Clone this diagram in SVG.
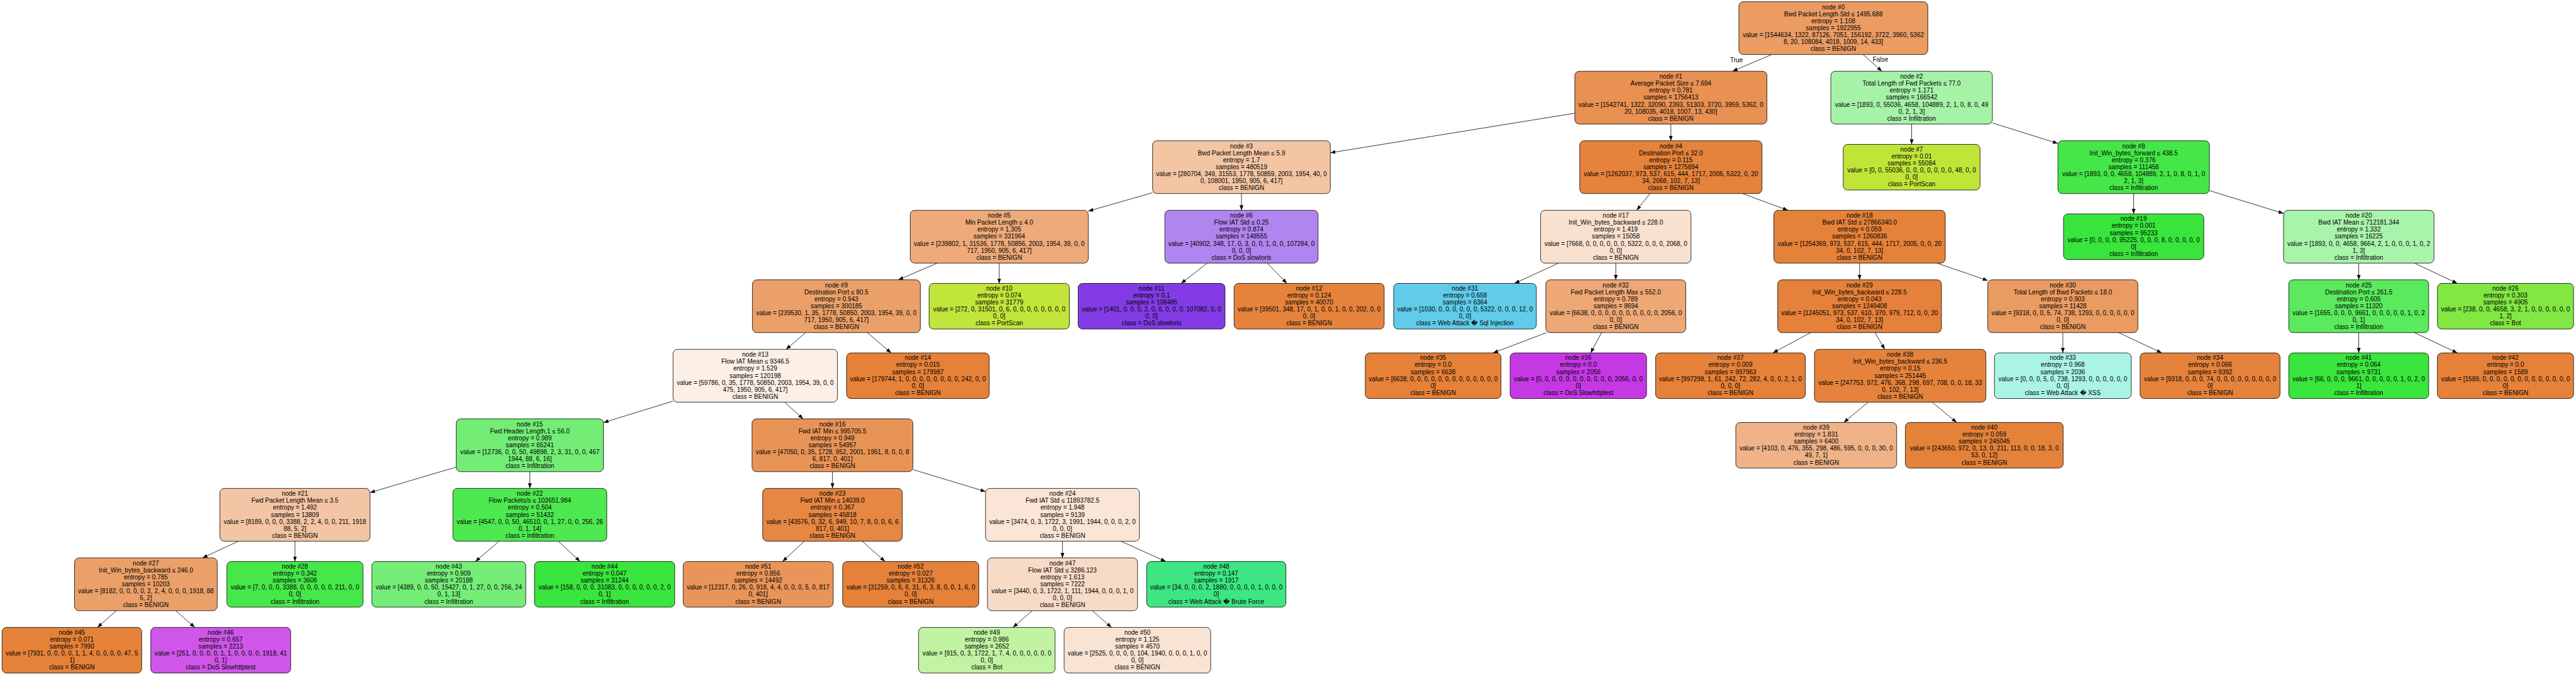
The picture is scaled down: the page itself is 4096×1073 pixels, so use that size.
<svg xmlns="http://www.w3.org/2000/svg" width="4096" height="1073" viewBox="0 0 4096 1073">
<style>
.node rect{stroke:#000;stroke-width:0.8}
.node text,.elabel{font-family:"Liberation Sans",Arial,Helvetica,"DejaVu Sans",sans-serif;font-size:10px;text-anchor:middle;fill:#000}
#edges line{stroke:#000;stroke-width:0.8;marker-end:url(#arrow)}
</style>
<defs>
<marker id="arrow" markerUnits="userSpaceOnUse" viewBox="0 0 9 7" markerWidth="9" markerHeight="7" refX="8" refY="3" orient="auto"><path d="M0,0 L8,3 L0,6 Z" fill="#000"/></marker>
</defs>
<rect width="4096" height="1073" fill="#fff"/>
<g id="edges">
<line x1="2817.05" y1="86.67" x2="2754.9" y2="113.25"/>
<line x1="2962.4" y1="86.67" x2="2992.35" y2="113.25"/>
<line x1="2504.1" y1="179.94" x2="2115.3" y2="242.87"/>
<line x1="2656.8" y1="197.19" x2="2656.8" y2="223.77"/>
<line x1="3039.6" y1="197.19" x2="3039.6" y2="229.47"/>
<line x1="3168.05" y1="195.43" x2="3272.2" y2="228.03"/>
<line x1="1832.7" y1="306.29" x2="1730.4" y2="335.64"/>
<line x1="1974" y1="307.71" x2="1974" y2="334.29"/>
<line x1="2623.54" y1="307.71" x2="2602.46" y2="334.29"/>
<line x1="2770.73" y1="307.71" x2="2842.92" y2="334.29"/>
<line x1="3392.65" y1="307.71" x2="3392.65" y2="339.99"/>
<line x1="3513.1" y1="302.93" x2="3631.0" y2="339.33"/>
<line x1="1490.52" y1="418.23" x2="1428.23" y2="444.81"/>
<line x1="1588.85" y1="418.23" x2="1588.85" y2="450.51"/>
<line x1="1919.74" y1="418.23" x2="1878.0" y2="450.51"/>
<line x1="2014.86" y1="418.23" x2="2046.29" y2="450.51"/>
<line x1="1280.92" y1="528.75" x2="1249.88" y2="555.33"/>
<line x1="1379.13" y1="528.75" x2="1417.0" y2="561.03"/>
<line x1="1070.2" y1="637.6" x2="959.6" y2="671.71"/>
<line x1="1247.53" y1="639.27" x2="1277.07" y2="665.85"/>
<line x1="725.4" y1="742.47" x2="588.3" y2="783.04"/>
<line x1="842.5" y1="749.79" x2="842.5" y2="776.37"/>
<line x1="1323.7" y1="749.79" x2="1323.7" y2="776.37"/>
<line x1="1451.6" y1="746.47" x2="1567.05" y2="781.36"/>
<line x1="2478.17" y1="418.23" x2="2408.13" y2="450.51"/>
<line x1="2569.2" y1="418.23" x2="2569.2" y2="444.81"/>
<line x1="2956.85" y1="418.23" x2="2956.85" y2="444.81"/>
<line x1="3079.55" y1="418.23" x2="3160.7" y2="445.98"/>
<line x1="3750.6" y1="418.23" x2="3750.6" y2="444.81"/>
<line x1="3839.18" y1="418.23" x2="3907.34" y2="450.51"/>
<line x1="2458.93" y1="528.75" x2="2374.1" y2="561.03"/>
<line x1="2546.59" y1="528.75" x2="2529.19" y2="561.03"/>
<line x1="2878.92" y1="528.75" x2="2818.96" y2="561.03"/>
<line x1="2981.36" y1="528.75" x2="2996.89" y2="555.33"/>
<line x1="3280" y1="528.75" x2="3280" y2="561.03"/>
<line x1="3368.91" y1="528.75" x2="3437.31" y2="561.03"/>
<line x1="3750.55" y1="528.75" x2="3750.55" y2="561.03"/>
<line x1="3839.15" y1="528.75" x2="3907.32" y2="561.03"/>
<line x1="2970.71" y1="639.27" x2="2931.71" y2="671.55"/>
<line x1="3072.18" y1="639.27" x2="3111.26" y2="671.55"/>
<line x1="378.99" y1="860.31" x2="321.96" y2="886.89"/>
<line x1="469" y1="860.31" x2="469" y2="892.59"/>
<line x1="793.58" y1="860.31" x2="755.94" y2="892.59"/>
<line x1="887.65" y1="860.31" x2="922.38" y2="892.59"/>
<line x1="1278.86" y1="860.31" x2="1244.36" y2="892.59"/>
<line x1="1370.93" y1="860.31" x2="1407.27" y2="892.59"/>
<line x1="1689.4" y1="860.31" x2="1689.4" y2="886.89"/>
<line x1="1782.27" y1="860.31" x2="1853.73" y2="892.59"/>
<line x1="184.82" y1="970.83" x2="155.03" y2="997.36"/>
<line x1="279.62" y1="970.83" x2="309.75" y2="997.36"/>
<line x1="1641.21" y1="970.83" x2="1610.75" y2="997.36"/>
<line x1="1737.13" y1="970.83" x2="1767.3" y2="997.36"/>
<text class="elabel" x="2761" y="98.8">True</text>
<text class="elabel" x="2990" y="97.9">False</text>
</g>

<g id="node0" class="node"><rect x="2765.0" y="2.73" width="300.3" height="83.93" rx="7" fill="#eb9c63"/><text y="14.53"><tspan x="2915.15">node #0</tspan><tspan x="2915.15" dy="11.13">Bwd Packet Length Std ≤ 1495.688</tspan><tspan x="2915.15" dy="11.13">entropy = 1.108</tspan><tspan x="2915.15" dy="11.13">samples = 1922955</tspan><tspan x="2915.15" dy="11.13">value = [1544634, 1322, 87126, 7051, 156192, 3722, 3960, 5362</tspan><tspan x="2915.15" dy="11.13">8, 20, 108084, 4018, 1009, 14, 433]</tspan><tspan x="2915.15" dy="11.13">class = BENIGN</tspan></text></g>

<g id="node1" class="node"><rect x="2504.1" y="113.25" width="305.4" height="83.93" rx="7" fill="#e89153"/><text y="125.05"><tspan x="2656.8">node #1</tspan><tspan x="2656.8" dy="11.13">Average Packet Size ≤ 7.694</tspan><tspan x="2656.8" dy="11.13">entropy = 0.781</tspan><tspan x="2656.8" dy="11.13">samples = 1756413</tspan><tspan x="2656.8" dy="11.13">value = [1542741, 1322, 32090, 2393, 51303, 3720, 3959, 5362, 0</tspan><tspan x="2656.8" dy="11.13">20, 108035, 4018, 1007, 13, 430]</tspan><tspan x="2656.8" dy="11.13">class = BENIGN</tspan></text></g>

<g id="node2" class="node"><rect x="2911.15" y="113.25" width="256.9" height="83.93" rx="7" fill="#a6f3a8"/><text y="125.05"><tspan x="3039.6">node #2</tspan><tspan x="3039.6" dy="11.13">Total Length of Fwd Packets ≤ 77.0</tspan><tspan x="3039.6" dy="11.13">entropy = 1.171</tspan><tspan x="3039.6" dy="11.13">samples = 166542</tspan><tspan x="3039.6" dy="11.13">value = [1893, 0, 55036, 4658, 104889, 2, 1, 0, 8, 0, 49</tspan><tspan x="3039.6" dy="11.13">0, 2, 1, 3]</tspan><tspan x="3039.6" dy="11.13">class = Infiltration</tspan></text></g>

<g id="node3" class="node"><rect x="1832.7" y="223.77" width="282.6" height="83.93" rx="7" fill="#f3c5a3"/><text y="235.57"><tspan x="1974">node #3</tspan><tspan x="1974" dy="11.13">Bwd Packet Length Mean ≤ 5.9</tspan><tspan x="1974" dy="11.13">entropy = 1.7</tspan><tspan x="1974" dy="11.13">samples = 480519</tspan><tspan x="1974" dy="11.13">value = [280704, 349, 31553, 1778, 50859, 2003, 1954, 40, 0</tspan><tspan x="1974" dy="11.13">0, 108001, 1950, 905, 6, 417]</tspan><tspan x="1974" dy="11.13">class = BENIGN</tspan></text></g>

<g id="node4" class="node"><rect x="2511.9" y="223.77" width="289.8" height="83.93" rx="7" fill="#e5823b"/><text y="235.57"><tspan x="2656.8">node #4</tspan><tspan x="2656.8" dy="11.13">Destination Port ≤ 32.0</tspan><tspan x="2656.8" dy="11.13">entropy = 0.115</tspan><tspan x="2656.8" dy="11.13">samples = 1275894</tspan><tspan x="2656.8" dy="11.13">value = [1262037, 973, 537, 615, 444, 1717, 2005, 5322, 0, 20</tspan><tspan x="2656.8" dy="11.13">34, 2068, 102, 7, 13]</tspan><tspan x="2656.8" dy="11.13">class = BENIGN</tspan></text></g>

<g id="node7" class="node"><rect x="2930.85" y="229.47" width="217.5" height="72.53" rx="7" fill="#c0e539"/><text y="240.77"><tspan x="3039.6">node #7</tspan><tspan x="3039.6" dy="11.13">entropy = 0.01</tspan><tspan x="3039.6" dy="11.13">samples = 55084</tspan><tspan x="3039.6" dy="11.13">value = [0, 0, 55036, 0, 0, 0, 0, 0, 0, 0, 48, 0, 0</tspan><tspan x="3039.6" dy="11.13">0, 0]</tspan><tspan x="3039.6" dy="11.13">class = PortScan</tspan></text></g>

<g id="node8" class="node"><rect x="3272.2" y="223.77" width="240.9" height="83.93" rx="7" fill="#45e748"/><text y="235.57"><tspan x="3392.65">node #8</tspan><tspan x="3392.65" dy="11.13">Init_Win_bytes_forward ≤ 438.5</tspan><tspan x="3392.65" dy="11.13">entropy = 0.376</tspan><tspan x="3392.65" dy="11.13">samples = 111458</tspan><tspan x="3392.65" dy="11.13">value = [1893, 0, 0, 4658, 104889, 2, 1, 0, 8, 0, 1, 0</tspan><tspan x="3392.65" dy="11.13">2, 1, 3]</tspan><tspan x="3392.65" dy="11.13">class = Infiltration</tspan></text></g>

<g id="node5" class="node"><rect x="1447.3" y="334.29" width="283.1" height="83.93" rx="7" fill="#eeaa7a"/><text y="346.09"><tspan x="1588.85">node #5</tspan><tspan x="1588.85" dy="11.13">Min Packet Length ≤ 4.0</tspan><tspan x="1588.85" dy="11.13">entropy = 1.305</tspan><tspan x="1588.85" dy="11.13">samples = 331964</tspan><tspan x="1588.85" dy="11.13">value = [239802, 1, 31536, 1778, 50856, 2003, 1954, 39, 0, 0</tspan><tspan x="1588.85" dy="11.13">717, 1950, 905, 6, 417]</tspan><tspan x="1588.85" dy="11.13">class = BENIGN</tspan></text></g>

<g id="node6" class="node"><rect x="1852.2" y="334.29" width="243.6" height="83.93" rx="7" fill="#b185ef"/><text y="346.09"><tspan x="1974">node #6</tspan><tspan x="1974" dy="11.13">Flow IAT Std ≤ 0.25</tspan><tspan x="1974" dy="11.13">entropy = 0.874</tspan><tspan x="1974" dy="11.13">samples = 148555</tspan><tspan x="1974" dy="11.13">value = [40902, 348, 17, 0, 3, 0, 0, 1, 0, 0, 107284, 0</tspan><tspan x="1974" dy="11.13">0, 0, 0]</tspan><tspan x="1974" dy="11.13">class = DoS slowloris</tspan></text></g>

<g id="node17" class="node"><rect x="2449.6" y="334.29" width="239.2" height="83.93" rx="7" fill="#f9e1cf"/><text y="346.09"><tspan x="2569.2">node #17</tspan><tspan x="2569.2" dy="11.13">Init_Win_bytes_backward ≤ 228.0</tspan><tspan x="2569.2" dy="11.13">entropy = 1.419</tspan><tspan x="2569.2" dy="11.13">samples = 15058</tspan><tspan x="2569.2" dy="11.13">value = [7668, 0, 0, 0, 0, 0, 0, 5322, 0, 0, 0, 2068, 0</tspan><tspan x="2569.2" dy="11.13">0, 0]</tspan><tspan x="2569.2" dy="11.13">class = BENIGN</tspan></text></g>

<g id="node18" class="node"><rect x="2820.6" y="334.29" width="272.5" height="83.93" rx="7" fill="#e5823a"/><text y="346.09"><tspan x="2956.85">node #18</tspan><tspan x="2956.85" dy="11.13">Bwd IAT Std ≤ 27866340.0</tspan><tspan x="2956.85" dy="11.13">entropy = 0.059</tspan><tspan x="2956.85" dy="11.13">samples = 1260836</tspan><tspan x="2956.85" dy="11.13">value = [1254369, 973, 537, 615, 444, 1717, 2005, 0, 0, 20</tspan><tspan x="2956.85" dy="11.13">34, 0, 102, 7, 13]</tspan><tspan x="2956.85" dy="11.13">class = BENIGN</tspan></text></g>

<g id="node19" class="node"><rect x="3281.1" y="339.99" width="223.1" height="72.53" rx="7" fill="#39e53c"/><text y="351.29"><tspan x="3392.65">node #19</tspan><tspan x="3392.65" dy="11.13">entropy = 0.001</tspan><tspan x="3392.65" dy="11.13">samples = 95233</tspan><tspan x="3392.65" dy="11.13">value = [0, 0, 0, 0, 95225, 0, 0, 0, 8, 0, 0, 0, 0, 0</tspan><tspan x="3392.65" dy="11.13">0]</tspan><tspan x="3392.65" dy="11.13">class = Infiltration</tspan></text></g>

<g id="node20" class="node"><rect x="3631.0" y="334.29" width="239.2" height="83.93" rx="7" fill="#a9f4ab"/><text y="346.09"><tspan x="3750.6">node #20</tspan><tspan x="3750.6" dy="11.13">Bwd IAT Mean ≤ 712181.344</tspan><tspan x="3750.6" dy="11.13">entropy = 1.332</tspan><tspan x="3750.6" dy="11.13">samples = 16225</tspan><tspan x="3750.6" dy="11.13">value = [1893, 0, 0, 4658, 9664, 2, 1, 0, 0, 0, 1, 0, 2</tspan><tspan x="3750.6" dy="11.13">1, 3]</tspan><tspan x="3750.6" dy="11.13">class = Infiltration</tspan></text></g>

<g id="node9" class="node"><rect x="1196.4" y="444.81" width="267.0" height="83.93" rx="7" fill="#eba069"/><text y="456.61"><tspan x="1329.9">node #9</tspan><tspan x="1329.9" dy="11.13">Destination Port ≤ 80.5</tspan><tspan x="1329.9" dy="11.13">entropy = 0.943</tspan><tspan x="1329.9" dy="11.13">samples = 300185</tspan><tspan x="1329.9" dy="11.13">value = [239530, 1, 35, 1778, 50850, 2003, 1954, 39, 0, 0</tspan><tspan x="1329.9" dy="11.13">717, 1950, 905, 6, 417]</tspan><tspan x="1329.9" dy="11.13">class = BENIGN</tspan></text></g>

<g id="node10" class="node"><rect x="1477.3" y="450.51" width="223.1" height="72.53" rx="7" fill="#c1e53b"/><text y="461.81"><tspan x="1588.85">node #10</tspan><tspan x="1588.85" dy="11.13">entropy = 0.074</tspan><tspan x="1588.85" dy="11.13">samples = 31779</tspan><tspan x="1588.85" dy="11.13">value = [272, 0, 31501, 0, 6, 0, 0, 0, 0, 0, 0, 0, 0</tspan><tspan x="1588.85" dy="11.13">0, 0]</tspan><tspan x="1588.85" dy="11.13">class = PortScan</tspan></text></g>

<g id="node11" class="node"><rect x="1714.3" y="450.51" width="233.6" height="72.53" rx="7" fill="#833ce5"/><text y="461.81"><tspan x="1831.1">node #11</tspan><tspan x="1831.1" dy="11.13">entropy = 0.1</tspan><tspan x="1831.1" dy="11.13">samples = 108485</tspan><tspan x="1831.1" dy="11.13">value = [1401, 0, 0, 0, 2, 0, 0, 0, 0, 0, 107082, 0, 0</tspan><tspan x="1831.1" dy="11.13">0, 0]</tspan><tspan x="1831.1" dy="11.13">class = DoS slowloris</tspan></text></g>

<g id="node12" class="node"><rect x="1962.3" y="450.51" width="238.6" height="72.53" rx="7" fill="#e5833c"/><text y="461.81"><tspan x="2081.6">node #12</tspan><tspan x="2081.6" dy="11.13">entropy = 0.124</tspan><tspan x="2081.6" dy="11.13">samples = 40070</tspan><tspan x="2081.6" dy="11.13">value = [39501, 348, 17, 0, 1, 0, 0, 1, 0, 0, 202, 0, 0</tspan><tspan x="2081.6" dy="11.13">0, 0]</tspan><tspan x="2081.6" dy="11.13">class = BENIGN</tspan></text></g>

<g id="node31" class="node"><rect x="2216.0" y="450.51" width="226.9" height="72.53" rx="7" fill="#60ccea"/><text y="461.81"><tspan x="2329.45">node #31</tspan><tspan x="2329.45" dy="11.13">entropy = 0.658</tspan><tspan x="2329.45" dy="11.13">samples = 6364</tspan><tspan x="2329.45" dy="11.13">value = [1030, 0, 0, 0, 0, 0, 0, 5322, 0, 0, 0, 12, 0</tspan><tspan x="2329.45" dy="11.13">0, 0]</tspan><tspan x="2329.45" dy="11.13">class = Web Attack � Sql Injection</tspan></text></g>

<g id="node32" class="node"><rect x="2457.95" y="444.81" width="222.5" height="83.93" rx="7" fill="#eda876"/><text y="456.61"><tspan x="2569.2">node #32</tspan><tspan x="2569.2" dy="11.13">Fwd Packet Length Max ≤ 552.0</tspan><tspan x="2569.2" dy="11.13">entropy = 0.789</tspan><tspan x="2569.2" dy="11.13">samples = 8694</tspan><tspan x="2569.2" dy="11.13">value = [6638, 0, 0, 0, 0, 0, 0, 0, 0, 0, 0, 2056, 0</tspan><tspan x="2569.2" dy="11.13">0, 0]</tspan><tspan x="2569.2" dy="11.13">class = BENIGN</tspan></text></g>

<g id="node29" class="node"><rect x="2826.7" y="444.81" width="260.3" height="83.93" rx="7" fill="#e5813a"/><text y="456.61"><tspan x="2956.85">node #29</tspan><tspan x="2956.85" dy="11.13">Init_Win_bytes_backward ≤ 228.5</tspan><tspan x="2956.85" dy="11.13">entropy = 0.043</tspan><tspan x="2956.85" dy="11.13">samples = 1249408</tspan><tspan x="2956.85" dy="11.13">value = [1245051, 973, 537, 610, 370, 979, 712, 0, 0, 20</tspan><tspan x="2956.85" dy="11.13">34, 0, 102, 7, 13]</tspan><tspan x="2956.85" dy="11.13">class = BENIGN</tspan></text></g>

<g id="node30" class="node"><rect x="3160.7" y="444.81" width="238.6" height="83.93" rx="7" fill="#ea9b62"/><text y="456.61"><tspan x="3280">node #30</tspan><tspan x="3280" dy="11.13">Total Length of Bwd Packets ≤ 18.0</tspan><tspan x="3280" dy="11.13">entropy = 0.903</tspan><tspan x="3280" dy="11.13">samples = 11428</tspan><tspan x="3280" dy="11.13">value = [9318, 0, 0, 5, 74, 738, 1293, 0, 0, 0, 0, 0, 0</tspan><tspan x="3280" dy="11.13">0, 0]</tspan><tspan x="3280" dy="11.13">class = BENIGN</tspan></text></g>

<g id="node25" class="node"><rect x="3639.3" y="444.81" width="222.5" height="83.93" rx="7" fill="#5be95d"/><text y="456.61"><tspan x="3750.55">node #25</tspan><tspan x="3750.55" dy="11.13">Destination Port ≤ 261.5</tspan><tspan x="3750.55" dy="11.13">entropy = 0.605</tspan><tspan x="3750.55" dy="11.13">samples = 11320</tspan><tspan x="3750.55" dy="11.13">value = [1655, 0, 0, 0, 9661, 0, 0, 0, 0, 0, 1, 0, 2</tspan><tspan x="3750.55" dy="11.13">0, 1]</tspan><tspan x="3750.55" dy="11.13">class = Infiltration</tspan></text></g>

<g id="node26" class="node"><rect x="3875.7" y="450.51" width="216.4" height="72.53" rx="7" fill="#82e643"/><text y="461.81"><tspan x="3983.9">node #26</tspan><tspan x="3983.9" dy="11.13">entropy = 0.303</tspan><tspan x="3983.9" dy="11.13">samples = 4905</tspan><tspan x="3983.9" dy="11.13">value = [238, 0, 0, 4658, 3, 2, 1, 0, 0, 0, 0, 0, 0</tspan><tspan x="3983.9" dy="11.13">1, 2]</tspan><tspan x="3983.9" dy="11.13">class = Bot</tspan></text></g>

<g id="node13" class="node"><rect x="1070.2" y="555.33" width="261.4" height="83.93" rx="7" fill="#fcefe5"/><text y="567.13"><tspan x="1200.9">node #13</tspan><tspan x="1200.9" dy="11.13">Flow IAT Mean ≤ 9346.5</tspan><tspan x="1200.9" dy="11.13">entropy = 1.529</tspan><tspan x="1200.9" dy="11.13">samples = 120198</tspan><tspan x="1200.9" dy="11.13">value = [59786, 0, 35, 1778, 50850, 2003, 1954, 39, 0, 0</tspan><tspan x="1200.9" dy="11.13">475, 1950, 905, 6, 417]</tspan><tspan x="1200.9" dy="11.13">class = BENIGN</tspan></text></g>

<g id="node14" class="node"><rect x="1346.1" y="561.03" width="226.9" height="72.53" rx="7" fill="#e58139"/><text y="572.33"><tspan x="1459.55">node #14</tspan><tspan x="1459.55" dy="11.13">entropy = 0.015</tspan><tspan x="1459.55" dy="11.13">samples = 179987</tspan><tspan x="1459.55" dy="11.13">value = [179744, 1, 0, 0, 0, 0, 0, 0, 0, 0, 242, 0, 0</tspan><tspan x="1459.55" dy="11.13">0, 0]</tspan><tspan x="1459.55" dy="11.13">class = BENIGN</tspan></text></g>

<g id="node35" class="node"><rect x="2170.9" y="561.03" width="215.8" height="72.53" rx="7" fill="#e58139"/><text y="572.33"><tspan x="2278.8">node #35</tspan><tspan x="2278.8" dy="11.13">entropy = 0.0</tspan><tspan x="2278.8" dy="11.13">samples = 6638</tspan><tspan x="2278.8" dy="11.13">value = [6638, 0, 0, 0, 0, 0, 0, 0, 0, 0, 0, 0, 0, 0</tspan><tspan x="2278.8" dy="11.13">0]</tspan><tspan x="2278.8" dy="11.13">class = BENIGN</tspan></text></g>

<g id="node36" class="node"><rect x="2401.2" y="561.03" width="216.9" height="72.53" rx="7" fill="#c539e5"/><text y="572.33"><tspan x="2509.65">node #36</tspan><tspan x="2509.65" dy="11.13">entropy = 0.0</tspan><tspan x="2509.65" dy="11.13">samples = 2056</tspan><tspan x="2509.65" dy="11.13">value = [0, 0, 0, 0, 0, 0, 0, 0, 0, 0, 0, 2056, 0, 0</tspan><tspan x="2509.65" dy="11.13">0]</tspan><tspan x="2509.65" dy="11.13">class = DoS Slowhttptest</tspan></text></g>

<g id="node37" class="node"><rect x="2632.6" y="561.03" width="238.0" height="72.53" rx="7" fill="#e58139"/><text y="572.33"><tspan x="2751.6">node #37</tspan><tspan x="2751.6" dy="11.13">entropy = 0.009</tspan><tspan x="2751.6" dy="11.13">samples = 997963</tspan><tspan x="2751.6" dy="11.13">value = [997298, 1, 61, 242, 72, 282, 4, 0, 0, 2, 1, 0</tspan><tspan x="2751.6" dy="11.13">0, 0, 0]</tspan><tspan x="2751.6" dy="11.13">class = BENIGN</tspan></text></g>

<g id="node38" class="node"><rect x="2885.1" y="555.33" width="272.6" height="83.93" rx="7" fill="#e5833c"/><text y="567.13"><tspan x="3021.4">node #38</tspan><tspan x="3021.4" dy="11.13">Init_Win_bytes_backward ≤ 236.5</tspan><tspan x="3021.4" dy="11.13">entropy = 0.15</tspan><tspan x="3021.4" dy="11.13">samples = 251445</tspan><tspan x="3021.4" dy="11.13">value = [247753, 972, 476, 368, 298, 697, 708, 0, 0, 18, 33</tspan><tspan x="3021.4" dy="11.13">0, 102, 7, 13]</tspan><tspan x="3021.4" dy="11.13">class = BENIGN</tspan></text></g>

<g id="node33" class="node"><rect x="3171.25" y="561.03" width="217.5" height="72.53" rx="7" fill="#aaf4e6"/><text y="572.33"><tspan x="3280">node #33</tspan><tspan x="3280" dy="11.13">entropy = 0.968</tspan><tspan x="3280" dy="11.13">samples = 2036</tspan><tspan x="3280" dy="11.13">value = [0, 0, 0, 5, 0, 738, 1293, 0, 0, 0, 0, 0, 0</tspan><tspan x="3280" dy="11.13">0, 0]</tspan><tspan x="3280" dy="11.13">class = Web Attack � XSS</tspan></text></g>

<g id="node34" class="node"><rect x="3402.9" y="561.03" width="222.5" height="72.53" rx="7" fill="#e5823b"/><text y="572.33"><tspan x="3514.15">node #34</tspan><tspan x="3514.15" dy="11.13">entropy = 0.066</tspan><tspan x="3514.15" dy="11.13">samples = 9392</tspan><tspan x="3514.15" dy="11.13">value = [9318, 0, 0, 0, 74, 0, 0, 0, 0, 0, 0, 0, 0, 0</tspan><tspan x="3514.15" dy="11.13">0]</tspan><tspan x="3514.15" dy="11.13">class = BENIGN</tspan></text></g>

<g id="node41" class="node"><rect x="3639.3" y="561.03" width="222.5" height="72.53" rx="7" fill="#3ae53d"/><text y="572.33"><tspan x="3750.55">node #41</tspan><tspan x="3750.55" dy="11.13">entropy = 0.064</tspan><tspan x="3750.55" dy="11.13">samples = 9731</tspan><tspan x="3750.55" dy="11.13">value = [66, 0, 0, 0, 9661, 0, 0, 0, 0, 0, 1, 0, 2, 0</tspan><tspan x="3750.55" dy="11.13">1]</tspan><tspan x="3750.55" dy="11.13">class = Infiltration</tspan></text></g>

<g id="node42" class="node"><rect x="3875.7" y="561.03" width="216.4" height="72.53" rx="7" fill="#e58139"/><text y="572.33"><tspan x="3983.9">node #42</tspan><tspan x="3983.9" dy="11.13">entropy = 0.0</tspan><tspan x="3983.9" dy="11.13">samples = 1589</tspan><tspan x="3983.9" dy="11.13">value = [1589, 0, 0, 0, 0, 0, 0, 0, 0, 0, 0, 0, 0, 0</tspan><tspan x="3983.9" dy="11.13">0]</tspan><tspan x="3983.9" dy="11.13">class = BENIGN</tspan></text></g>

<g id="node15" class="node"><rect x="725.4" y="665.85" width="234.2" height="83.93" rx="7" fill="#73ed75"/><text y="677.65"><tspan x="842.5">node #15</tspan><tspan x="842.5" dy="11.13">Fwd Header Length.1 ≤ 56.0</tspan><tspan x="842.5" dy="11.13">entropy = 0.989</tspan><tspan x="842.5" dy="11.13">samples = 65241</tspan><tspan x="842.5" dy="11.13">value = [12736, 0, 0, 50, 49898, 2, 3, 31, 0, 0, 467</tspan><tspan x="842.5" dy="11.13">1944, 88, 6, 16]</tspan><tspan x="842.5" dy="11.13">class = Infiltration</tspan></text></g>

<g id="node16" class="node"><rect x="1195.8" y="665.85" width="255.8" height="83.93" rx="7" fill="#e99457"/><text y="677.65"><tspan x="1323.7">node #16</tspan><tspan x="1323.7" dy="11.13">Fwd IAT Min ≤ 995705.5</tspan><tspan x="1323.7" dy="11.13">entropy = 0.949</tspan><tspan x="1323.7" dy="11.13">samples = 54957</tspan><tspan x="1323.7" dy="11.13">value = [47050, 0, 35, 1728, 952, 2001, 1951, 8, 0, 0, 8</tspan><tspan x="1323.7" dy="11.13">6, 817, 0, 401]</tspan><tspan x="1323.7" dy="11.13">class = BENIGN</tspan></text></g>

<g id="node39" class="node"><rect x="2760.0" y="671.55" width="255.8" height="72.53" rx="7" fill="#efb387"/><text y="682.85"><tspan x="2887.9">node #39</tspan><tspan x="2887.9" dy="11.13">entropy = 1.831</tspan><tspan x="2887.9" dy="11.13">samples = 6400</tspan><tspan x="2887.9" dy="11.13">value = [4103, 0, 476, 355, 298, 486, 595, 0, 0, 0, 30, 0</tspan><tspan x="2887.9" dy="11.13">49, 7, 1]</tspan><tspan x="2887.9" dy="11.13">class = BENIGN</tspan></text></g>

<g id="node40" class="node"><rect x="3029.7" y="671.55" width="250.9" height="72.53" rx="7" fill="#e5823a"/><text y="682.85"><tspan x="3155.15">node #40</tspan><tspan x="3155.15" dy="11.13">entropy = 0.059</tspan><tspan x="3155.15" dy="11.13">samples = 245045</tspan><tspan x="3155.15" dy="11.13">value = [243650, 972, 0, 13, 0, 211, 113, 0, 0, 18, 3, 0</tspan><tspan x="3155.15" dy="11.13">53, 0, 12]</tspan><tspan x="3155.15" dy="11.13">class = BENIGN</tspan></text></g>

<g id="node21" class="node"><rect x="349.7" y="776.37" width="238.6" height="83.93" rx="7" fill="#f3c5a4"/><text y="788.17"><tspan x="469">node #21</tspan><tspan x="469" dy="11.13">Fwd Packet Length Mean ≤ 3.5</tspan><tspan x="469" dy="11.13">entropy = 1.492</tspan><tspan x="469" dy="11.13">samples = 13809</tspan><tspan x="469" dy="11.13">value = [8189, 0, 0, 0, 3388, 2, 2, 4, 0, 0, 211, 1918</tspan><tspan x="469" dy="11.13">88, 5, 2]</tspan><tspan x="469" dy="11.13">class = BENIGN</tspan></text></g>

<g id="node22" class="node"><rect x="720.15" y="776.37" width="244.7" height="83.93" rx="7" fill="#4ee850"/><text y="788.17"><tspan x="842.5">node #22</tspan><tspan x="842.5" dy="11.13">Flow Packets/s ≤ 103651.984</tspan><tspan x="842.5" dy="11.13">entropy = 0.504</tspan><tspan x="842.5" dy="11.13">samples = 51432</tspan><tspan x="842.5" dy="11.13">value = [4547, 0, 0, 50, 46510, 0, 1, 27, 0, 0, 256, 26</tspan><tspan x="842.5" dy="11.13">0, 1, 14]</tspan><tspan x="842.5" dy="11.13">class = Infiltration</tspan></text></g>

<g id="node23" class="node"><rect x="1212.75" y="776.37" width="221.9" height="83.93" rx="7" fill="#e68743"/><text y="788.17"><tspan x="1323.7">node #23</tspan><tspan x="1323.7" dy="11.13">Fwd IAT Min ≤ 14039.0</tspan><tspan x="1323.7" dy="11.13">entropy = 0.367</tspan><tspan x="1323.7" dy="11.13">samples = 45818</tspan><tspan x="1323.7" dy="11.13">value = [43576, 0, 32, 6, 949, 10, 7, 8, 0, 0, 6, 6</tspan><tspan x="1323.7" dy="11.13">817, 0, 401]</tspan><tspan x="1323.7" dy="11.13">class = BENIGN</tspan></text></g>

<g id="node24" class="node"><rect x="1567.05" y="776.37" width="244.7" height="83.93" rx="7" fill="#fae5d6"/><text y="788.17"><tspan x="1689.4">node #24</tspan><tspan x="1689.4" dy="11.13">Fwd IAT Std ≤ 11893782.5</tspan><tspan x="1689.4" dy="11.13">entropy = 1.948</tspan><tspan x="1689.4" dy="11.13">samples = 9139</tspan><tspan x="1689.4" dy="11.13">value = [3474, 0, 3, 1722, 3, 1991, 1944, 0, 0, 0, 2, 0</tspan><tspan x="1689.4" dy="11.13">0, 0, 0]</tspan><tspan x="1689.4" dy="11.13">class = BENIGN</tspan></text></g>

<g id="node27" class="node"><rect x="118.5" y="886.89" width="226.9" height="83.93" rx="7" fill="#eba069"/><text y="898.69"><tspan x="231.95">node #27</tspan><tspan x="231.95" dy="11.13">Init_Win_bytes_backward ≤ 246.0</tspan><tspan x="231.95" dy="11.13">entropy = 0.785</tspan><tspan x="231.95" dy="11.13">samples = 10203</tspan><tspan x="231.95" dy="11.13">value = [8182, 0, 0, 0, 0, 2, 2, 4, 0, 0, 0, 1918, 88</tspan><tspan x="231.95" dy="11.13">5, 2]</tspan><tspan x="231.95" dy="11.13">class = BENIGN</tspan></text></g>

<g id="node28" class="node"><rect x="360.8" y="892.59" width="216.4" height="72.53" rx="7" fill="#46e749"/><text y="903.89"><tspan x="469">node #28</tspan><tspan x="469" dy="11.13">entropy = 0.342</tspan><tspan x="469" dy="11.13">samples = 3606</tspan><tspan x="469" dy="11.13">value = [7, 0, 0, 0, 3388, 0, 0, 0, 0, 0, 211, 0, 0</tspan><tspan x="469" dy="11.13">0, 0]</tspan><tspan x="469" dy="11.13">class = Infiltration</tspan></text></g>

<g id="node43" class="node"><rect x="591.3" y="892.59" width="244.7" height="72.53" rx="7" fill="#75ed77"/><text y="903.89"><tspan x="713.65">node #43</tspan><tspan x="713.65" dy="11.13">entropy = 0.909</tspan><tspan x="713.65" dy="11.13">samples = 20188</tspan><tspan x="713.65" dy="11.13">value = [4389, 0, 0, 50, 15427, 0, 1, 27, 0, 0, 256, 24</tspan><tspan x="713.65" dy="11.13">0, 1, 13]</tspan><tspan x="713.65" dy="11.13">class = Infiltration</tspan></text></g>

<g id="node44" class="node"><rect x="849.9" y="892.59" width="223.0" height="72.53" rx="7" fill="#3ae53d"/><text y="903.89"><tspan x="961.4">node #44</tspan><tspan x="961.4" dy="11.13">entropy = 0.047</tspan><tspan x="961.4" dy="11.13">samples = 31244</tspan><tspan x="961.4" dy="11.13">value = [158, 0, 0, 0, 31083, 0, 0, 0, 0, 0, 0, 2, 0</tspan><tspan x="961.4" dy="11.13">0, 1]</tspan><tspan x="961.4" dy="11.13">class = Infiltration</tspan></text></g>

<g id="node51" class="node"><rect x="1086.3" y="892.59" width="238.6" height="72.53" rx="7" fill="#e99559"/><text y="903.89"><tspan x="1205.6">node #51</tspan><tspan x="1205.6" dy="11.13">entropy = 0.856</tspan><tspan x="1205.6" dy="11.13">samples = 14492</tspan><tspan x="1205.6" dy="11.13">value = [12317, 0, 26, 0, 918, 4, 4, 0, 0, 0, 5, 0, 817</tspan><tspan x="1205.6" dy="11.13">0, 401]</tspan><tspan x="1205.6" dy="11.13">class = BENIGN</tspan></text></g>

<g id="node52" class="node"><rect x="1339.9" y="892.59" width="216.4" height="72.53" rx="7" fill="#e58139"/><text y="903.89"><tspan x="1448.1">node #52</tspan><tspan x="1448.1" dy="11.13">entropy = 0.027</tspan><tspan x="1448.1" dy="11.13">samples = 31326</tspan><tspan x="1448.1" dy="11.13">value = [31259, 0, 6, 6, 31, 6, 3, 8, 0, 0, 1, 6, 0</tspan><tspan x="1448.1" dy="11.13">0, 0]</tspan><tspan x="1448.1" dy="11.13">class = BENIGN</tspan></text></g>

<g id="node47" class="node"><rect x="1570.1" y="886.89" width="238.6" height="83.93" rx="7" fill="#f8dbc7"/><text y="898.69"><tspan x="1689.4">node #47</tspan><tspan x="1689.4" dy="11.13">Flow IAT Std ≤ 3286.123</tspan><tspan x="1689.4" dy="11.13">entropy = 1.613</tspan><tspan x="1689.4" dy="11.13">samples = 7222</tspan><tspan x="1689.4" dy="11.13">value = [3440, 0, 3, 1722, 1, 111, 1944, 0, 0, 0, 1, 0</tspan><tspan x="1689.4" dy="11.13">0, 0, 0]</tspan><tspan x="1689.4" dy="11.13">class = BENIGN</tspan></text></g>

<g id="node48" class="node"><rect x="1823.3" y="892.59" width="221.4" height="72.53" rx="7" fill="#3de683"/><text y="903.89"><tspan x="1934">node #48</tspan><tspan x="1934" dy="11.13">entropy = 0.147</tspan><tspan x="1934" dy="11.13">samples = 1917</tspan><tspan x="1934" dy="11.13">value = [34, 0, 0, 0, 2, 1880, 0, 0, 0, 0, 1, 0, 0, 0</tspan><tspan x="1934" dy="11.13">0]</tspan><tspan x="1934" dy="11.13">class = Web Attack � Brute Force</tspan></text></g>

<g id="node45" class="node"><rect x="3.3" y="997.36" width="222.0" height="72.53" rx="7" fill="#e5823a"/><text y="1008.66"><tspan x="114.3">node #45</tspan><tspan x="114.3" dy="11.13">entropy = 0.071</tspan><tspan x="114.3" dy="11.13">samples = 7990</tspan><tspan x="114.3" dy="11.13">value = [7931, 0, 0, 0, 0, 1, 1, 4, 0, 0, 0, 0, 47, 5</tspan><tspan x="114.3" dy="11.13">1]</tspan><tspan x="114.3" dy="11.13">class = BENIGN</tspan></text></g>

<g id="node46" class="node"><rect x="239.7" y="997.36" width="222.5" height="72.53" rx="7" fill="#ce57e9"/><text y="1008.66"><tspan x="350.95">node #46</tspan><tspan x="350.95" dy="11.13">entropy = 0.657</tspan><tspan x="350.95" dy="11.13">samples = 2213</tspan><tspan x="350.95" dy="11.13">value = [251, 0, 0, 0, 0, 1, 1, 0, 0, 0, 0, 1918, 41</tspan><tspan x="350.95" dy="11.13">0, 1]</tspan><tspan x="350.95" dy="11.13">class = DoS Slowhttptest</tspan></text></g>

<g id="node49" class="node"><rect x="1460.6" y="997.36" width="217.0" height="72.53" rx="7" fill="#c2f3a3"/><text y="1008.66"><tspan x="1569.1">node #49</tspan><tspan x="1569.1" dy="11.13">entropy = 0.986</tspan><tspan x="1569.1" dy="11.13">samples = 2652</tspan><tspan x="1569.1" dy="11.13">value = [915, 0, 3, 1722, 1, 7, 4, 0, 0, 0, 0, 0, 0</tspan><tspan x="1569.1" dy="11.13">0, 0]</tspan><tspan x="1569.1" dy="11.13">class = Bot</tspan></text></g>

<g id="node50" class="node"><rect x="1692.0" y="997.36" width="233.1" height="72.53" rx="7" fill="#f9e3d3"/><text y="1008.66"><tspan x="1808.55">node #50</tspan><tspan x="1808.55" dy="11.13">entropy = 1.125</tspan><tspan x="1808.55" dy="11.13">samples = 4570</tspan><tspan x="1808.55" dy="11.13">value = [2525, 0, 0, 0, 0, 104, 1940, 0, 0, 0, 1, 0, 0</tspan><tspan x="1808.55" dy="11.13">0, 0]</tspan><tspan x="1808.55" dy="11.13">class = BENIGN</tspan></text></g>
</svg>
